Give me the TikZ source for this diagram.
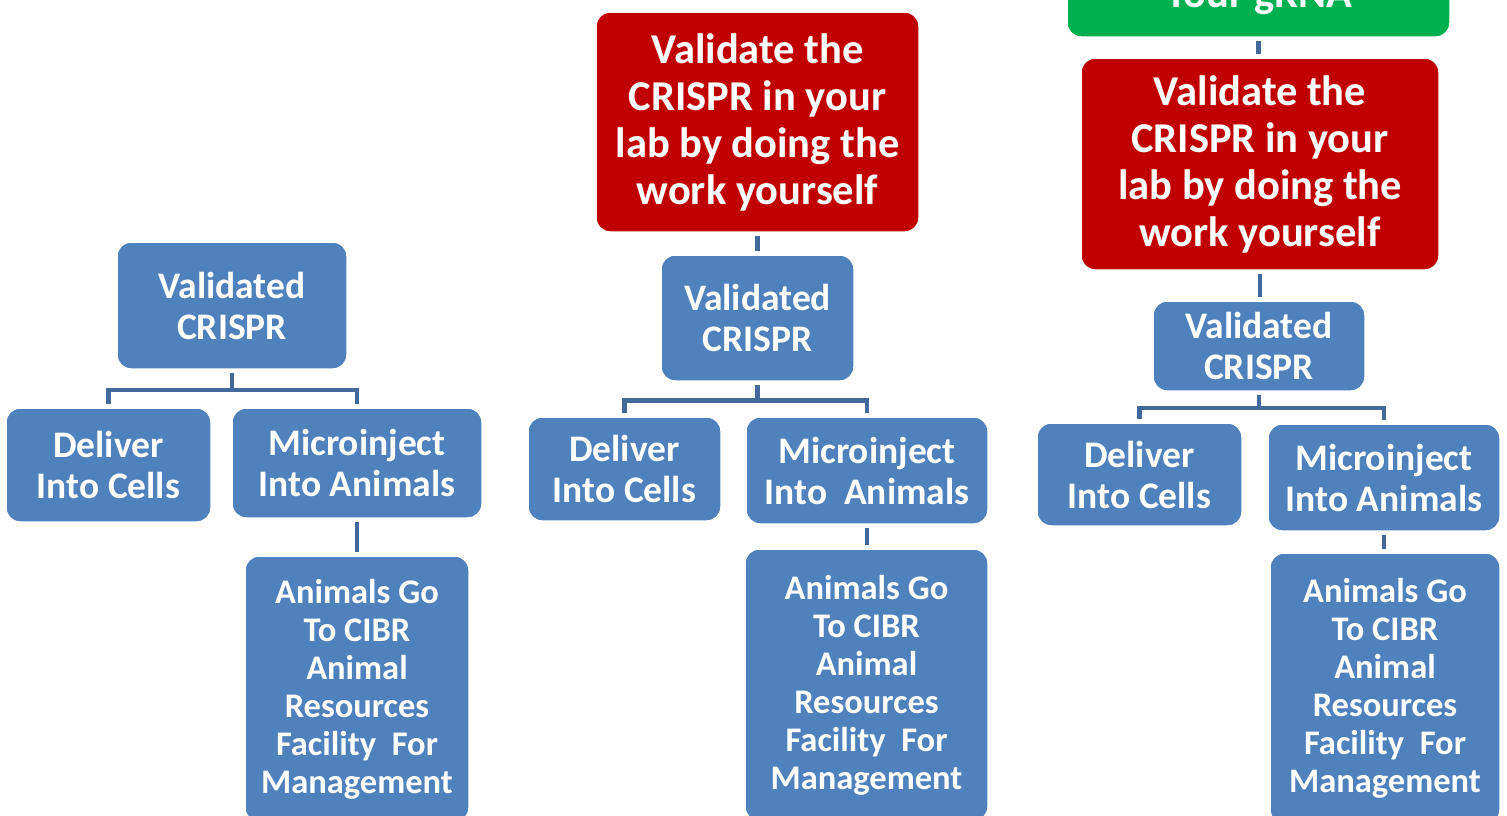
\documentclass[tikz,border=0pt]{standalone}
\usepackage{fontspec}
\setmainfont{Carlito}
\definecolor{boxblue}{HTML}{4F81BD}
\definecolor{boxred}{HTML}{C00000}
\definecolor{boxgreen}{HTML}{00B050}
\definecolor{connblue}{HTML}{41699C}
\tikzset{
  base/.style={rounded corners=14pt, draw=white, line width=1.5pt, text=white, align=center, inner sep=0pt},
  bluebox/.style={base, fill=boxblue, font=\fontsize{37.5}{41}\selectfont\bfseries},
  animbox/.style={base, fill=boxblue, font=\fontsize{34.5}{38}\selectfont\bfseries},
  redbox/.style={base, fill=boxred, font=\fontsize{42.5}{47}\selectfont\bfseries},
  greenbox/.style={base, fill=boxgreen, font=\fontsize{42.5}{47}\selectfont\bfseries},
  conn/.style={draw=connblue, line width=4.5pt, shorten <=3pt, shorten >=3pt}
}
\begin{document}
\begin{tikzpicture}[x=1pt,y=-1pt]
\useasboundingbox (0,0) rectangle (1507,815);
\clip (0,0) rectangle (1507,815);
% column 1
\node[bluebox, minimum width=230, minimum height=127] (v1) at (232,305.5) {Validated\\CRISPR};
\node[bluebox, minimum width=205, minimum height=114] (d1) at (108.5,465) {Deliver\\Into Cells};
\node[bluebox, minimum width=250, minimum height=110] (m1) at (357,463) {Microinject\\Into Animals};
\node[animbox, minimum width=224, minimum height=266] (a1) at (357,689) {Animals Go\\To CIBR\\Animal\\Resources\\Facility\ \ For\\Management};
% column 2
\node[redbox, minimum width=323, minimum height=220] (r2) at (757.5,122) {Validate the\\CRISPR in your\\lab by doing the\\work yourself};
\node[bluebox, minimum width=193, minimum height=126] (v2) at (757.5,318) {Validated\\CRISPR};
\node[bluebox, minimum width=193, minimum height=104] (d2) at (624.5,469) {Deliver\\Into Cells};
\node[bluebox, minimum width=242, minimum height=107] (m2) at (867,470.5) {Microinject\\Into\ \ Animals};
\node[animbox, minimum width=243, minimum height=272] (a2) at (866.5,685) {Animals Go\\To CIBR\\Animal\\Resources\\Facility\ \ For\\Management};
% column 3
\node[greenbox, minimum width=383, minimum height=80] (g3) at (1258.5,-3) {Your gRNA};
\node[redbox, minimum width=358, minimum height=212] (r3) at (1260,164) {Validate the\\CRISPR in your\\lab by doing the\\work yourself};
\node[bluebox, minimum width=212, minimum height=90] (v3) at (1259,346) {Validated\\CRISPR};
\node[bluebox, minimum width=205, minimum height=103] (d3) at (1139.5,474.5) {Deliver\\Into Cells};
\node[bluebox, minimum width=232, minimum height=107] (m3) at (1384,477.5) {Microinject\\Into Animals};
\node[animbox, minimum width=230, minimum height=271] (a3) at (1385,688.5) {Animals Go\\To CIBR\\Animal\\Resources\\Facility\ \ For\\Management};
% connectors
\draw[conn] (v1.south) -- ++(0,20) -| (d1.north);
\draw[conn] (v1.south) -- ++(0,20) -| (m1.north);
\draw[conn] (m1.south) -- (m1.south |- a1.north);
\draw[conn] (r2.south) -- (r2.south |- v2.north);
\draw[conn] (v2.south) -- ++(0,18.5) -| (d2.north);
\draw[conn] (v2.south) -- ++(0,18.5) -| (m2.north);
\draw[conn] (m2.south) -- (m2.south |- a2.north);
\draw[conn] (g3.south) -- (g3.south |- r3.north);
\draw[conn] (r3.south) -- (r3.south |- v3.north);
\draw[conn] (v3.south) -- ++(0,16) -| (d3.north);
\draw[conn] (v3.south) -- ++(0,16) -| (m3.north);
\draw[conn] (m3.south) -- (m3.south |- a3.north);
\end{tikzpicture}
\end{document}
